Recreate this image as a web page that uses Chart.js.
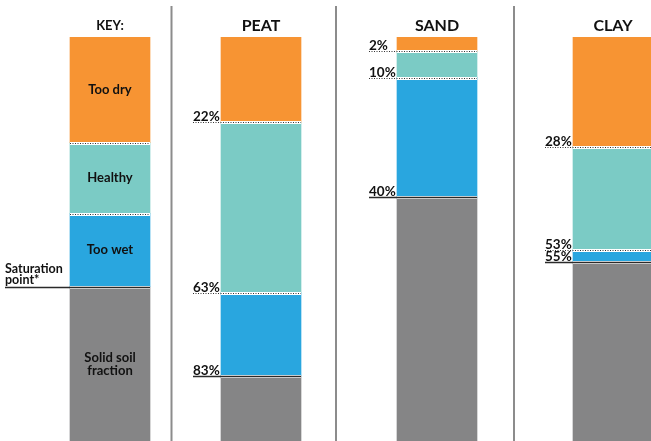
<!DOCTYPE html>
<html>
<head>
<meta charset="utf-8">
<script src="https://cdn.jsdelivr.net/npm/chart.js@4"></script>
<style>
  html, body { margin: 0; padding: 0; background: #fff; }
  canvas { display: block; }
</style>
</head>
<body>
<canvas id="chart" width="651" height="441"></canvas>
<script>
// columns: the key plus three soil types
const columns = ['KEY:', 'PEAT', 'SAND', 'CLAY'];
// share of the soil volume (%), top to bottom, as drawn in the picture
const tooDry  = [26, 21, 3.5, 27];
const healthy = [17.5, 42, 6.5, 25.5];
const tooWet  = [18, 20.5, 29.5, 3];
const solid   = [38.5, 16.5, 60.5, 44.5];
// printed boundary labels (dry|healthy, healthy|wet, wet|solid)
const boundaryLabels = [null, ['22%', '63%', '83%'], ['2%', '10%', '40%'], ['28%', '53%', '55%']];
const keyLabels = ['Too dry', 'Healthy', 'Too wet', ['Solid soil', 'fraction']];

// layout (pixels), not data
const columnX = [110, 261, 437, 613];
const dividerX = [171.5, 336, 514];
const colors = ['#f79433', '#7bcbc5', '#29a6df', '#858586'];
const FONT = 'Lato, "Open Sans", sans-serif';

const series = [tooDry, healthy, tooWet, solid];

const overlay = {
  id: 'overlay',
  afterDatasetsDraw(chart) {
    const ctx = chart.ctx;
    const y = chart.scales.y;
    const x = chart.scales.x;
    const half = 40;
    ctx.save();

    // dividers
    ctx.strokeStyle = '#8c8c8c';
    ctx.lineWidth = 2;
    dividerX.forEach(dx => {
      ctx.beginPath();
      ctx.moveTo(dx, 6);
      ctx.lineTo(dx, 441);
      ctx.stroke();
    });

    columns.forEach((name, i) => {
      const cx = x.getPixelForValue(columnX[i]);
      const isKey = i === 0;
      // title
      ctx.fillStyle = '#111';
      ctx.textAlign = 'center';
      ctx.textBaseline = 'alphabetic';
      ctx.font = (isKey ? 'bold 13px ' : 'bold 16px ') + FONT;
      ctx.fillText(name, cx, isKey ? 30 : 31);

      // boundaries between the segments
      let cum = 0;
      for (let s = 0; s < 3; s++) {
        cum += series[s][i];
        const py = Math.round(y.getPixelForValue(cum)) + 0.5;
        const lineLeft = isKey ? (s === 2 ? 5 : cx - half) : cx - half - 28;
        ctx.fillStyle = '#fff';
        ctx.fillRect(cx - half, py - 1.5, half * 2, 3);
        ctx.beginPath();
        if (s === 2) {
          ctx.setLineDash([]);
          ctx.strokeStyle = '#2a2a2a';
          ctx.lineWidth = 1.5;
        } else {
          ctx.setLineDash([1, 1.5]);
          ctx.strokeStyle = '#333';
          ctx.lineWidth = 1;
        }
        ctx.moveTo(lineLeft, py);
        ctx.lineTo(cx + half + (i === 3 ? 2 : 0), py);
        ctx.stroke();
        ctx.setLineDash([]);

        if (!isKey) {
          ctx.fillStyle = '#111';
          ctx.textAlign = 'left';
          ctx.font = 'bold 13.5px ' + FONT;
          ctx.fillText(boundaryLabels[i][s], cx - half - 28, py - 2);
        }
      }
    });

    // key labels
    const kx = x.getPixelForValue(columnX[0]);
    ctx.fillStyle = '#111';
    ctx.font = 'bold 13px ' + FONT;
    ctx.textBaseline = 'middle';
    let start = 0;
    series.forEach((arr, s) => {
      const top = y.getPixelForValue(start);
      start += arr[0];
      const bottom = Math.min(y.getPixelForValue(start), chart.chartArea.bottom);
      const mid = (top + bottom) / 2;
      const lines = [].concat(keyLabels[s]);
      ctx.textAlign = 'center';
      lines.forEach((t, k) => {
        ctx.fillText(t, kx, mid + (k - (lines.length - 1) / 2) * 13);
      });
    });
    ctx.font = 'bold 12.5px ' + FONT;
    ctx.textAlign = 'left';
    ctx.textBaseline = 'alphabetic';
    ctx.fillText('Saturation', 5, 272.5);
    ctx.fillText('point*', 5, 283.5);

    ctx.restore();
  }
};

new Chart(document.getElementById('chart'), {
  type: 'bar',
  data: {
    datasets: series.map((arr, s) => ({
      label: ['Too dry', 'Healthy', 'Too wet', 'Solid soil fraction'][s],
      data: arr.map((v, i) => ({ x: columnX[i], y: v })),
      backgroundColor: colors[s],
      borderWidth: 0,
      barThickness: 80
    }))
  },
  options: {
    responsive: false,
    animation: false,
    devicePixelRatio: 1,
    layout: { padding: { top: 37, left: 0, right: 0, bottom: 0 } },
    plugins: { legend: { display: false }, tooltip: { enabled: false } },
    scales: {
      x: { type: 'linear', min: 0, max: 651, offset: false, stacked: true, display: false },
      y: { min: 0, max: 99.5, reverse: true, stacked: true, display: false }
    }
  },
  plugins: [overlay]
});
</script>
</body>
</html>
